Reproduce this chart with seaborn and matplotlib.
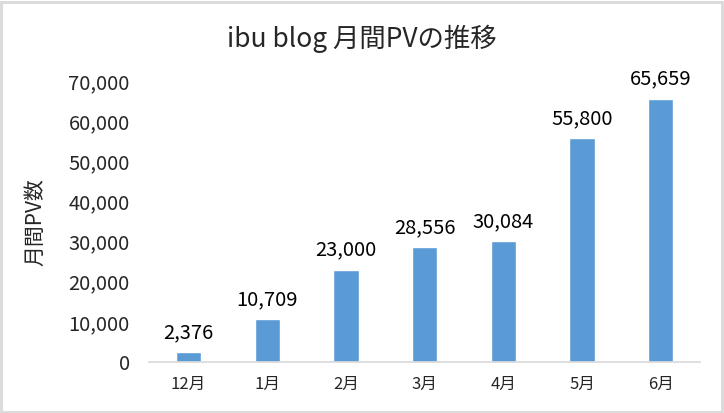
import pandas as pd
import seaborn as sns
import matplotlib.pyplot as plt
from matplotlib.patches import Rectangle

months = ['12月', '1月', '2月', '3月', '4月', '5月', '6月']
pv = [2376, 10709, 23000, 28556, 30084, 55800, 65659]
yticks = [0, 10000, 20000, 30000, 40000, 50000, 60000, 70000]

df = pd.DataFrame({'month': months, 'pv': pv})

sns.set_theme(style="white")
plt.rcParams['font.family'] = ['Noto Sans CJK JP', 'DejaVu Sans']

fig = plt.figure(figsize=(7.24, 4.13), dpi=100)
ax = fig.add_axes([0.206, 0.1235, 0.761, 0.68])

sns.barplot(data=df, x='month', y='pv', color='#5B9BD5', saturation=1,
            width=0.32, ax=ax)

# データラベル
for i, v in enumerate(pv):
    ax.text(i, v + 2300, f'{v:,}', ha='center', va='bottom', fontsize=14.5, color='#000000')

ax.set_ylim(0, 70000)
ax.set_xlim(-0.5, len(months) - 0.5)
ax.set_yticks(yticks)
ax.set_yticklabels([f'{t:,}' for t in yticks], fontsize=14.5)
ax.tick_params(axis='x', labelsize=12, length=0, pad=10)
ax.tick_params(axis='y', length=0, pad=14)
ax.set_xlabel('')
ax.set_ylabel('月間PV数', fontsize=15, labelpad=16)

for s in ['top', 'right', 'left']:
    ax.spines[s].set_visible(False)
ax.spines['bottom'].set_color('#D9D9D9')
ax.spines['bottom'].set_linewidth(1.2)

fig.text(0.5, 0.905, 'ibu blog 月間PVの推移', ha='center', va='center', fontsize=19)

fig.patches.append(Rectangle((0.002, 0.003), 0.995, 0.993, transform=fig.transFigure,
                             fill=False, edgecolor='#D9D9D9', linewidth=2))

fig.savefig('out.png', dpi=100)
